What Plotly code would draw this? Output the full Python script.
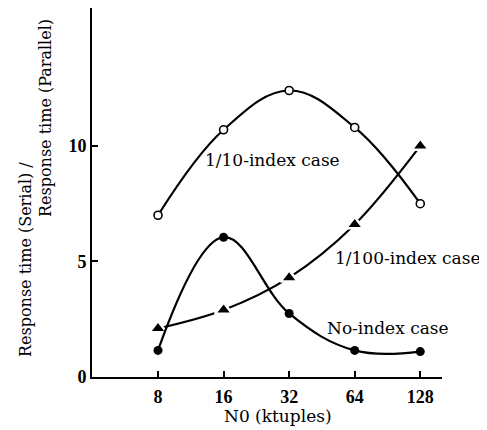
import plotly.graph_objects as go

n0 = [8, 16, 32, 64, 128]
tenth_index = [7.0, 10.7, 12.4, 10.8, 7.5]
hundredth_index = [2.1, 2.9, 4.3, 6.6, 10.0]
no_index = [1.15, 6.05, 2.75, 1.15, 1.1]
x_ticks = [8, 16, 32, 64, 128]
y_ticks = [0, 5, 10]

FONT = "DejaVu Serif"
TFONT = "Liberation Serif"
OFF = 8  # default page body margin
L, R, T, B = 84, 45, 0, 53
W, H = 479, 422
PW, PH = W - L - R, H - T - B


def px(x, y):
    return (x - OFF - L) / PW, (OFF + H - B - y) / PH


fig = go.Figure()
fig.add_trace(go.Scatter(
    x=n0, y=tenth_index, mode="lines+markers", line=dict(color="black", width=2.2, shape="spline", smoothing=1.1),
    marker=dict(symbol="circle", size=8, color="white", line=dict(color="black", width=1.6)), showlegend=False))
fig.add_trace(go.Scatter(
    x=n0, y=hundredth_index, mode="lines+markers", line=dict(color="black", width=2.2, shape="spline", smoothing=1.0),
    marker=dict(symbol="triangle-up", size=15, color="black", line=dict(color="white", width=2.5)), showlegend=False))
fig.add_trace(go.Scatter(
    x=n0, y=no_index, mode="lines+markers", line=dict(color="black", width=2.2, shape="spline", smoothing=1.1),
    marker=dict(symbol="circle", size=9, color="black"), showlegend=False))

annos = [
    ("1/10-index case", 272, 160, 0, 17),
    ("1/100-index case", 408, 258, 0, 17),
    ("No-index case", 388, 328, 0, 17),
    ("N0 (ktuples)", 278, 416, 0, 17),
    ("Response time (Serial) /", 26, 260, -90, 16),
    ("Response time (Parallel)", 46, 118, -90, 16),
]
for text, ax, ay, ang, sz in annos:
    fx, fy = px(ax, ay)
    fig.add_annotation(text=text, x=fx, y=fy, xref="paper", yref="paper", showarrow=False,
                       textangle=ang, xanchor="center", yanchor="middle",
                       font=dict(family=FONT, size=sz, color="black"))

fig.update_layout(
    width=W, height=H, margin=dict(l=L, r=R, t=T, b=B),
    paper_bgcolor="white", plot_bgcolor="white",
    xaxis=dict(type="log", range=[0.6, 2.207], tickvals=x_ticks, ticktext=[str(v) for v in x_ticks],
               showgrid=False, zeroline=False, showline=True, linecolor="black", linewidth=2,
               ticks="inside", ticklen=6, tickwidth=1.5, tickcolor="black", ticklabelstandoff=2,
               tickfont=dict(family=TFONT, size=18, color="black", weight="bold")),
    yaxis=dict(range=[0, 15.97], tickvals=y_ticks, showgrid=False, zeroline=False, showline=True,
               linecolor="black", linewidth=2, ticks="inside", ticklen=6, tickwidth=1.5, tickcolor="black",
               tickfont=dict(family=TFONT, size=18, color="black", weight="bold")),
)
fig.write_html("out.html")
